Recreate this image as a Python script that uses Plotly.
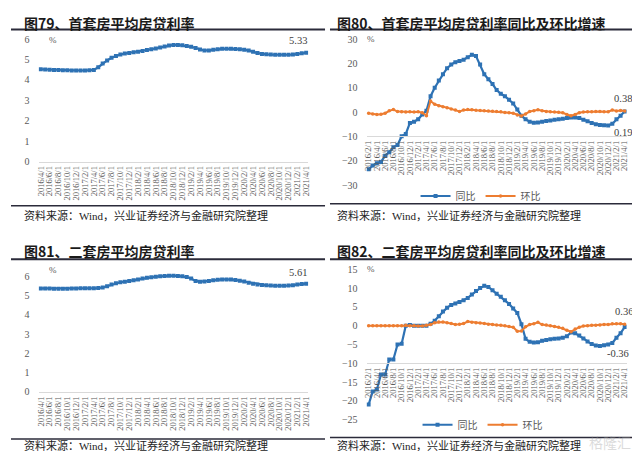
import plotly.graph_objects as go
import pandas as pd

W, H = 640, 451

# ---------------- data ----------------
months_a = [f"{d.year}/{d.month}/1" for d in pd.date_range("2016-04-01", "2021-04-01", freq="MS")]
months_b = [f"{d.year}/{d.month}/1" for d in pd.date_range("2016-02-01", "2021-04-01", freq="MS")]
ticks_a = months_a[::2]
ticks_b = months_b[::2]

first_rate = [4.52, 4.51, 4.50, 4.49, 4.48, 4.47, 4.47, 4.46, 4.46,
              4.46, 4.46, 4.47, 4.49, 4.62, 4.80, 4.95, 5.08, 5.17, 5.24, 5.29, 5.32,
              5.35, 5.38, 5.42, 5.46, 5.50, 5.54, 5.59, 5.64, 5.68, 5.71, 5.71, 5.69,
              5.66, 5.62, 5.56, 5.49, 5.44, 5.44, 5.47, 5.50, 5.52, 5.52, 5.52, 5.51,
              5.50, 5.48, 5.44, 5.38, 5.31, 5.27, 5.25, 5.24, 5.23, 5.23, 5.23, 5.23,
              5.24, 5.27, 5.30, 5.33]

second_rate = [5.36, 5.36, 5.36, 5.35, 5.35, 5.35, 5.35, 5.36, 5.36,
               5.37, 5.37, 5.37, 5.37, 5.38, 5.41, 5.48, 5.56, 5.63, 5.68, 5.71, 5.75,
               5.79, 5.83, 5.88, 5.91, 5.94, 5.97, 5.99, 6.01, 6.02, 6.02, 6.01, 5.99,
               5.95, 5.88, 5.75, 5.71, 5.72, 5.75, 5.78, 5.81, 5.83, 5.83, 5.82, 5.80,
               5.76, 5.72, 5.66, 5.61, 5.57, 5.54, 5.52, 5.51, 5.50, 5.50, 5.50, 5.51,
               5.53, 5.56, 5.59, 5.61]

first_yoy = [-23.5, -22.0, -21.0, -20.5, -18.0, -16.5, -14.5, -13.5, -10.0, -9.0,
             -4.5, -4.0, -3.0, -1.0, 0.5, 6.5, 10.0, 13.0, 15.5, 18.0,
             19.5, 20.5, 21.0, 21.5, 22.5, 23.5, 23.0, 19.5, 15.5, 13.5,
             11.5, 9.0, 7.5, 6.5, 5.0, 3.5, 1.0, -1.5, -3.0, -4.0,
             -4.4, -4.3, -4.0, -3.7, -3.5, -3.2, -3.0, -2.8, -2.5, -2.3,
             -2.2, -2.5, -3.2, -3.8, -4.5, -5.0, -5.3, -5.4, -5.5, -4.8,
             -3.0, -1.5, 0.19]

first_mom = [-0.5, -0.8, -1.0, -0.9, -0.5, 0.5, 1.0, 0.2, 0.1, 0.0,
             0.1, 0.0, 0.1, -0.3, -1.5, 4.5, 3.2, 2.6, 2.2, 1.8,
             1.2, 0.8, 0.2, 0.8, 1.0, 0.9, 0.7, 0.6, 0.5, 0.4,
             0.3, 0.2, 0.1, -0.2, -0.3, -0.5, -1.2, -1.6, -0.8, 0.2,
             0.5, 0.9, 0.5, 0.2, 0.1, 0.0, -0.1, -0.3, -1.0, -1.5,
             -1.0, -0.3, 0.0, 0.1, 0.1, 0.2, 0.2, 0.1, 0.1, 0.8,
             0.4, 0.6, 0.38]

second_yoy = [-21.0, -17.5, -17.0, -13.0, -13.0, -9.0, -9.0, -5.0, -4.8, 0.0,
              0.2, 0.0, 0.0, 0.0, 0.0, 0.5, 1.3, 2.5, 3.8, 4.8,
              5.5, 5.9, 6.3, 6.8, 7.4, 8.3, 9.2, 10.0, 10.6, 10.3,
              9.4, 8.5, 7.7, 6.8, 5.8, 4.6, 3.4, 0.4, -3.5, -4.3,
              -4.5, -4.4, -4.0, -3.8, -3.6, -3.5, -3.4, -3.2, -2.8, -1.8,
              -2.0, -2.6, -3.4, -4.2, -4.9, -5.3, -5.4, -5.2, -5.0, -4.6,
              -3.2, -2.0, -0.36]

second_mom = [0.0, 0.0, 0.0, 0.0, 0.0, 0.0, 0.0, 0.0, 0.0, 0.1,
              0.0, 0.0, -0.1, -0.1, 0.1, 0.3, 0.8, 1.0, 1.0, 0.8,
              0.6, 0.3, 0.4, 0.6, 1.1, 0.9, 0.8, 0.7, 0.6, 0.4,
              0.3, 0.2, 0.1, 0.0, -0.2, -0.4, -1.5, -1.4, -0.3, 0.3,
              0.5, 0.9, 0.3, 0.2, 0.0, -0.2, -0.4, -0.7, -1.2, -1.6,
              -0.9, -0.4, -0.1, 0.0, 0.1, 0.1, 0.2, 0.3, 0.3, 0.5,
              0.5, 0.5, 0.36]

titles = ["图79、首套房平均房贷利率", "图80、首套房平均房贷利率同比及环比增速",
          "图81、二套房平均房贷利率", "图82、二套房平均房贷利率同比及环比增速"]
source = "资料来源：Wind，兴业证券经济与金融研究院整理"
names = ["同比", "环比"]

# ---------------- styling ----------------
BLUE = "#2E72B4"
ORANGE = "#ED7D31"
TICKC = "#595959"
SERIF = "Liberation Serif, Times New Roman, serif"
CJK = "Noto Sans CJK SC"

def px(x):
    return x / W

def py(y):
    return 1 - y / H

fig = go.Figure()

# panel 1
fig.add_trace(go.Scatter(x=months_a, y=first_rate, mode="lines+markers",
                         line=dict(color=BLUE, width=2.2), marker=dict(symbol="square", size=4, color=BLUE),
                         xaxis="x", yaxis="y", showlegend=False))
# panel 2
fig.add_trace(go.Scatter(x=months_b, y=first_yoy, name=names[0], mode="lines+markers",
                         line=dict(color=BLUE, width=2.2), marker=dict(symbol="square", size=4, color=BLUE),
                         xaxis="x2", yaxis="y2", legend="legend"))
fig.add_trace(go.Scatter(x=months_b, y=first_mom, name=names[1], mode="lines+markers",
                         line=dict(color=ORANGE, width=2), marker=dict(symbol="circle", size=3.5, color=ORANGE),
                         xaxis="x2", yaxis="y2", legend="legend"))
# panel 3
fig.add_trace(go.Scatter(x=months_a, y=second_rate, mode="lines+markers",
                         line=dict(color=BLUE, width=2.2), marker=dict(symbol="square", size=4, color=BLUE),
                         xaxis="x3", yaxis="y3", showlegend=False))
# panel 4
fig.add_trace(go.Scatter(x=months_b, y=second_yoy, name=names[0], mode="lines+markers",
                         line=dict(color=BLUE, width=2.2), marker=dict(symbol="square", size=4, color=BLUE),
                         xaxis="x4", yaxis="y4", legend="legend2"))
fig.add_trace(go.Scatter(x=months_b, y=second_mom, name=names[1], mode="lines+markers",
                         line=dict(color=ORANGE, width=2), marker=dict(symbol="circle", size=3.5, color=ORANGE),
                         xaxis="x4", yaxis="y4", legend="legend2"))

xtick_font = dict(family=SERIF, size=8.5, color=TICKC)
ytick_font = dict(family=SERIF, size=10, color=TICKC)

def xaxis_common(cats, ticks):
    return dict(type="category", categoryorder="array", categoryarray=cats,
                tickmode="array", tickvals=ticks, ticktext=ticks, tickangle=-90,
                tickfont=xtick_font, showgrid=False, zeroline=False,
                showline=True, linecolor="#D9D9D9", linewidth=1, ticks="",
                range=[-0.5, len(cats) - 0.5], fixedrange=True)

def yaxis_common(rng, vals):
    return dict(range=rng, tickmode="array", tickvals=vals, tickfont=ytick_font,
                showgrid=False, zeroline=False, showline=False, ticks="",
                ticklabelstandoff=8, fixedrange=True)

# pixel geometry
p1_y = (25.7, 151.7)
p3_y = (265.3, 388.3)
p2_y = (25.7, 175.7)
p4_y = (262.3, 416.7)
left_x = (27.8, 300.2)
right_x = (358.9, 621.6)

xa1 = xaxis_common(months_a, ticks_a); xa1.update(domain=[px(left_x[0]), px(left_x[1])], anchor="y")
xa3 = xaxis_common(months_a, ticks_a); xa3.update(domain=[px(left_x[0]), px(left_x[1])], anchor="y3")
xa2 = xaxis_common(months_b, ticks_b)
xa2.update(domain=[px(right_x[0]), px(right_x[1])], anchor="free",
           position=py(p2_y[1]) + (py(p2_y[0]) - py(p2_y[1])) * (20 / 60))
xa4 = xaxis_common(months_b, ticks_b)
xa4.update(domain=[px(right_x[0]), px(right_x[1])], anchor="free",
           position=py(p4_y[1]) + (py(p4_y[0]) - py(p4_y[1])) * (15 / 40))

ya1 = yaxis_common([0, 6], list(range(0, 7)))
ya1.update(domain=[py(p1_y[1]), py(p1_y[0])], anchor="x")
ya3 = yaxis_common([0, 6.2], list(range(0, 7)))
ya3.update(domain=[py(p3_y[1]), py(p3_y[0])], anchor="x3")
ya2 = yaxis_common([-30, 30], list(range(-30, 31, 10)))
ya2.update(domain=[py(p2_y[1]), py(p2_y[0])], anchor="x2")
ya4 = yaxis_common([-25, 15], list(range(-25, 16, 5)))
ya4.update(domain=[py(p4_y[1]), py(p4_y[0])], anchor="x4")

annotations = []
# titles
for t, (x0, y0) in zip(titles, [(11, 9), (327, 9), (11, 243), (327, 243)]):
    annotations.append(dict(text="<b>" + t + "</b>", x=px(x0), y=py(y0), xref="paper", yref="paper",
                            xanchor="left", yanchor="middle", showarrow=False,
                            font=dict(family=CJK, size=14, color="#1a1a1a")))
# sources
for (x0, y0) in [(11, 207), (327, 207), (11, 443), (327, 443)]:
    annotations.append(dict(text=source, x=px(x0), y=py(y0), xref="paper", yref="paper",
                            xanchor="left", yanchor="middle", showarrow=False,
                            font=dict(family="Liberation Serif, " + CJK, size=11, color="#222222")))
# % labels
for (x0, y0) in [(42, 27), (363, 26), (42, 263), (363, 262)]:
    annotations.append(dict(text="%", x=px(x0), y=py(y0), xref="paper", yref="paper",
                            xanchor="center", yanchor="middle", showarrow=False,
                            font=dict(family=SERIF, size=9, color=TICKC)))
# value labels
vfont = dict(family=SERIF, size=10.5, color="#404040")
annotations += [
    dict(text=f"{first_rate[-1]:.2f}", x=months_a[-1], y=first_rate[-1], xref="x", yref="y",
         xanchor="center", yanchor="bottom", xshift=-8, yshift=5, showarrow=False, font=vfont),
    dict(text=f"{second_rate[-1]:.2f}", x=months_a[-1], y=second_rate[-1], xref="x3", yref="y3",
         xanchor="center", yanchor="bottom", xshift=-8, yshift=4, showarrow=False, font=vfont),
    dict(text=f"{first_mom[-1]:.2f}", x=months_b[-1], y=first_mom[-1], xref="x2", yref="y2",
         xanchor="center", yanchor="bottom", xshift=-2, yshift=5, showarrow=False, font=vfont),
    dict(text=f"{first_yoy[-1]:.2f}", x=months_b[-1], y=first_yoy[-1], xref="x2", yref="y2",
         xanchor="center", yanchor="top", xshift=-2, yshift=-13, showarrow=False, font=vfont),
    dict(text=f"{second_mom[-1]:.2f}", x=months_b[-1], y=second_mom[-1], xref="x4", yref="y4",
         xanchor="center", yanchor="bottom", xshift=-1, yshift=5, showarrow=False, font=vfont),
    dict(text=f"{second_yoy[-1]:.2f}", x=months_b[-1], y=second_yoy[-1], xref="x4", yref="y4",
         xanchor="center", yanchor="top", xshift=-7, yshift=-19, showarrow=False, font=vfont),
]
# watermark
annotations.append(dict(text="格隆汇", x=px(628), y=py(440), xref="paper", yref="paper",
                        xanchor="right", yanchor="middle", showarrow=False, opacity=0.35,
                        font=dict(family=CJK, size=14, color="#9a9a9a")))

shapes = []
for (x0, x1, y0, w) in [(0, 317, 16, 2), (322, 640, 16, 2), (0, 317, 252, 2), (322, 640, 252, 2),
                        (0, 317, 197, 1.5), (322, 640, 195, 1.5), (0, 317, 436.5, 1.5), (322, 640, 435, 1.5)]:
    shapes.append(dict(type="line", xref="paper", yref="paper", x0=px(x0), x1=px(x1), y0=py(y0), y1=py(y0),
                       line=dict(color="#2b2b3a", width=w)))

legend_font = dict(family=CJK, size=10, color=TICKC)
fig.update_layout(
    width=W, height=H, margin=dict(l=0, r=0, t=0, b=0),
    paper_bgcolor="white", plot_bgcolor="white",
    xaxis=xa1, yaxis=ya1, xaxis2=xa2, yaxis2=ya2, xaxis3=xa3, yaxis3=ya3, xaxis4=xa4, yaxis4=ya4,
    annotations=annotations, shapes=shapes,
    legend=dict(orientation="h", x=px(474), y=py(187), xanchor="center", yanchor="middle",
                font=legend_font, bgcolor="rgba(0,0,0,0)", itemwidth=30, tracegroupgap=0),
    legend2=dict(orientation="h", x=px(476), y=py(422), xanchor="center", yanchor="middle",
                 font=legend_font, bgcolor="rgba(0,0,0,0)", itemwidth=30, tracegroupgap=0),
)

fig.write_html("out.html")
